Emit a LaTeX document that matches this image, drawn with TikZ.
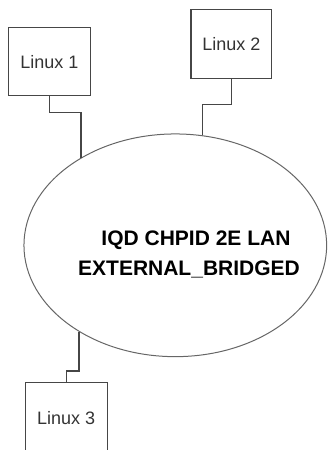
\documentclass[tikz,border=0pt]{standalone}
\usepackage{fontspec}
\setmainfont{Liberation Sans}
\usetikzlibrary{shapes.geometric}
\definecolor{wire}{RGB}{70,70,70}

\begin{document}
\begin{tikzpicture}[x=1pt,y=-1pt,
    host/.style={draw=wire,line width=1.4pt,minimum width=82pt,minimum height=68pt,
        inner sep=0pt,text=black!80,font=\fontsize{18}{22}\selectfont},
    link/.style={draw=wire,line width=1.4pt},
    lanlabel/.style={anchor=base,font=\fontsize{21}{25}\selectfont\bfseries}]
\useasboundingbox (0,0) rectangle (329,450);
% the LAN
\node [ellipse,draw=black!60,line width=1pt,minimum width=302.7pt,
    minimum height=222.7pt,inner sep=0pt] (lan) at (175.3,245.3) {};
\node [lanlabel] (iqd) at (196,245) {IQD CHPID 2E LAN};
\node [lanlabel] (bridged) at (189,275) {EXTERNAL\_BRIDGED};
% the hosts
\node [host] (linux1) at (49.5,61.7) {Linux 1};
\node [host,minimum width=80.7pt,minimum height=69.4pt] (linux2) at (231.3,44) {Linux 2};
\node [host,minimum height=70pt] (linux3) at (66.2,417.7) {Linux 3};
% wiring
\draw [link] (linux1.south) -- ++(0,16) -| (lan.137.2);
\draw [link] (linux2.south) -- ++(0,25) -| (lan.76.8);
\draw [link] (lan.222.6) -- ++(0,39) -| (linux3.north);
\end{tikzpicture}
\end{document}
